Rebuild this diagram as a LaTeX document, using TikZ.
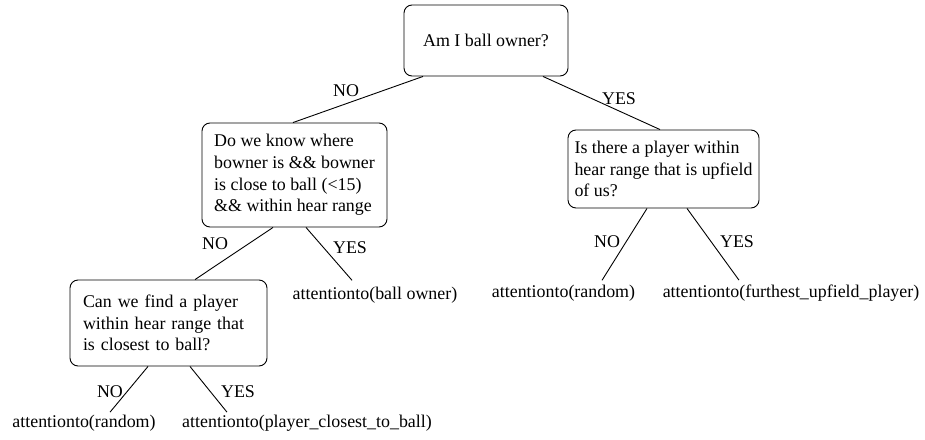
\documentclass[tikz,border=0pt]{standalone}
\usepackage{fontspec}
\setmainfont{Liberation Serif}
\begin{document}
\begin{tikzpicture}[x=1pt,y=-1pt,
  every node/.style={font=\fontsize{17.9}{21.8}\selectfont},
  qbox/.style={draw, rounded corners=8pt, line width=0.9pt, align=left, inner ysep=0pt},
  leaf/.style={inner sep=0pt},
  lbl/.style={inner sep=0pt},
  conn/.style={line width=0.9pt}]
\useasboundingbox (0,0) rectangle (925,439);

\node[qbox, inner xsep=0pt, minimum width=164pt, minimum height=71pt] (root) at (486,40.5) {Am I ball owner?};
\node[qbox, inner xsep=0pt, minimum width=185pt, minimum height=104pt] (b2) at (294.5,175)
  {Do we know where\\bowner is \&\& bowner\\is close to ball (<15)\\\&\& within hear range};
\node[qbox, inner xsep=13pt, text width=171pt, minimum height=86pt] (b3) at (168.5,323)
  {Can we find a player\\within hear range that\\is closest to ball?};
\node[qbox, inner xsep=0pt, minimum width=191pt, minimum height=78pt] (b4) at (663.5,169)
  {Is there a player within\\hear range that is upfield\\of us?};

\node[leaf] (l1) at (84,423.5) {attentionto(random)};
\node[leaf] (l2) at (307,423.5) {attentionto(player\_closest\_to\_ball)};
\node[leaf] (l3) at (375,295) {attentionto(ball owner)};
\node[leaf] (l4) at (563.5,293) {attentionto(random)};
\node[leaf] (l5) at (791,293) {attentionto(furthest\_upfield\_player)};

\node[lbl] (n1) at (346,91) {NO};
\node[lbl] (y1) at (619,98.5) {YES};
\node[lbl] (n2) at (215,244) {NO};
\node[lbl] (y2) at (350,248) {YES};
\node[lbl] (n3) at (110,392) {NO};
\node[lbl] (y3) at (238,392) {YES};
\node[lbl] (n4) at (607,242) {NO};
\node[lbl] (y4) at (737,242) {YES};

\draw[conn] ([xshift=-63pt]root.south) -- ([xshift=-1.5pt]b2.north);
\draw[conn] ([xshift=57pt]root.south) -- ([xshift=-3.5pt]b4.north);
\draw[conn] ([xshift=-21.5pt]b2.south) -- ([xshift=26.5pt]b3.north);
\draw[conn] ([xshift=11.5pt]b2.south) -- ([xshift=-23pt,yshift=6.4pt]l3.north);
\draw[conn] ([xshift=-20.5pt]b3.south) -- ([xshift=26pt,yshift=3pt]l1.north);
\draw[conn] ([xshift=21.5pt]b3.south) -- ([xshift=-80pt,yshift=3pt]l2.north);
\draw[conn] ([xshift=-16.5pt]b4.south) -- ([xshift=38.5pt,yshift=4.4pt]l4.north);
\draw[conn] ([xshift=23.5pt]b4.south) -- ([xshift=-52pt,yshift=4.4pt]l5.north);
\end{tikzpicture}
\end{document}
